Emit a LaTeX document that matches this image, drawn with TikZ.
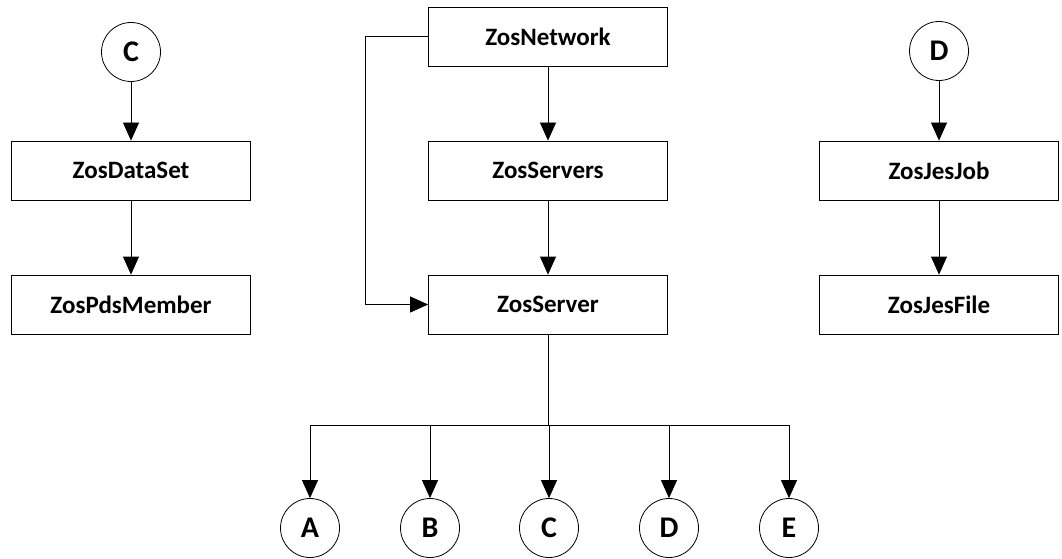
\documentclass[tikz,border=0pt]{standalone}
\usepackage{fontspec}
\setmainfont{Carlito}
\usetikzlibrary{arrows.meta}
\tikzset{
  objbox/.style = {draw, line width=0.8pt, minimum width=239pt, minimum height=59pt,
    inner sep=0pt, font=\fontsize{25}{30}\selectfont\bfseries},
  refcirc/.style = {draw, circle, line width=0.8pt, minimum size=59pt,
    inner sep=0pt, font=\fontsize{30}{36}\selectfont\bfseries},
}

\begin{document}
\begin{tikzpicture}[x=1pt, y=-1pt]
			\def\rowA{170.5};
			\def\rowB{304.5};
			\def\busY{425};

			\useasboundingbox (0,0) rectangle (1062,559);

			\begin{scope}
				\node [refcirc] (cTop) at (131,52) {C};
				\node [objbox] (dataSet) at (131,\rowA) {ZosDataSet};
				\node [objbox] (pdsMember) at (131,\rowB) {ZosPdsMember};

				\node [objbox] (network) at (548,36.5) {ZosNetwork};
				\node [objbox] (servers) at (548,\rowA) {ZosServers};
				\node [objbox] (server) at (548,\rowB) {ZosServer};

				\node [refcirc] (dTop) at (939,51) {D};
				\node [objbox] (jesJob) at (939,\rowA) {ZosJesJob};
				\node [objbox] (jesFile) at (939,\rowB) {ZosJesFile};
			\end{scope}

			\foreach \name/\x in {A/310, B/430, C/549, D/669, E/789} {
				\node [refcirc] (leaf\name) at (\x,528) {\name};
			}
			\coordinate (bus) at (548,\busY);
			\coordinate (bend) at (365,36.5);

			\begin{scope}[line width=0.8pt, -{Triangle[length=18pt, width=16pt]}]
				\draw (cTop) -- (dataSet);
				\draw (dataSet) -- (pdsMember);
				\draw (network) -- (servers);
				\draw (servers) -- (server);
				\draw (network.west) -- (bend) |- (server.west);
				\draw (dTop) -- (jesJob);
				\draw (jesJob) -- (jesFile);
				\foreach \name in {A, B, C, D, E} {
					\draw (server.south) -- (server.south |- bus) -| (leaf\name.north);
				}
			\end{scope}
		\end{tikzpicture}
\end{document}
